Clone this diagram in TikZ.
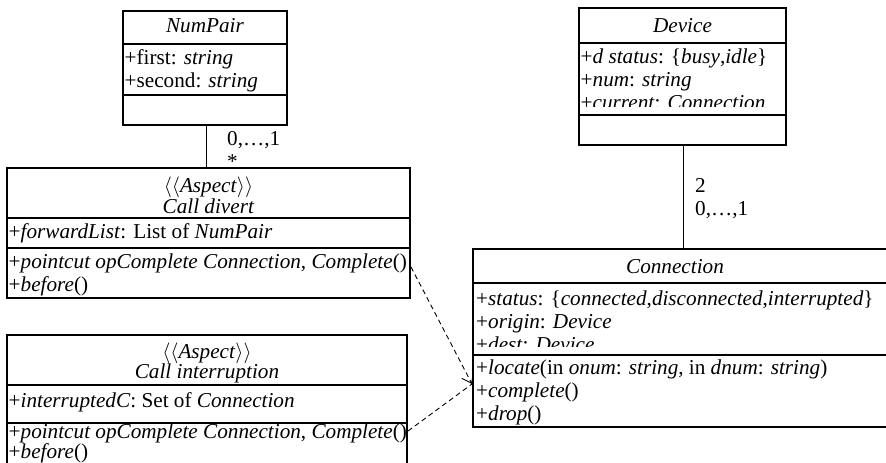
\documentclass[tikz,border=0pt]{standalone}
\usepackage{fontspec}
\setmainfont{Liberation Serif}
\usetikzlibrary{arrows.meta}
\newcommand\umlfont{\fontsize{21.2}{23}\selectfont}

\begin{document}
\begin{tikzpicture}[x=1pt, y=-1pt,
    box/.style={line width=2.7pt},
    lnk/.style={line width=0.9pt},
    dep/.style={lnk, dash pattern=on 5pt off 3.5pt},
    ttl/.style={inner sep=0pt, anchor=base, font=\umlfont},
    cell/.style={inner sep=0pt, anchor=north west, align=left, font=\umlfont}]
    \useasboundingbox (0,0) rectangle (886,463);
    \clip (0,0) rectangle (886,463);

    \node[ttl] (NP) at (205,32) {\textit{NumPair}};
    \node[cell] (NPa) at (124.5,48) {\strut+first: \textit{string}\\+second: \textit{string}};
    \draw[box] (123,11) rectangle (287,125) (123,44) -- (287,44) (123,95) -- (287,95);

    \node[ttl] (CDs) at (208.5,192.5) {$\langle\langle$\textit{Aspect}$\rangle\rangle$};
    \node[ttl] (CD) at (208.5,213) {\textit{Call divert}};
    \node[cell] (CDa) at (8.5,222.4) {\strut+\textit{forwardList}: List of \textit{NumPair}};
    \node[cell] (CDo) at (8.5,252.4) {\strut+\textit{pointcut opComplete Connection}, \textit{Complete}()\\+\textit{before}()};
    \draw[box] (7,168) rectangle (410,298) (7,218) -- (410,218) (7,248) -- (410,248);

    \node[ttl] (CIs) at (207,358.5) {$\langle\langle$\textit{Aspect}$\rangle\rangle$};
    \node[ttl] (CI) at (207,378.5) {\textit{Call interruption}};
    \node[cell] (CIa) at (8.5,391.4) {\strut+\textit{interruptedC}: Set of \textit{Connection}};
    \node[cell] (CIo) at (8.5,422.4) {\strut+\textit{pointcut opComplete Connection}, \textit{Complete}()\\[-3pt]+\textit{before}()};
    \draw[box] (7,335) rectangle (407,480) (7,385) -- (407,385) (7,423) -- (407,423);

    \node[ttl] (D) at (682.5,32) {\textit{Device}};
    \node[cell] (Da) at (580.5,47.4) {\strut+\textit{d status}: \{\textit{busy},\textit{idle}\}\\+\textit{num}: \textit{string}\\+\textit{current}: \textit{Connection}};
    \fill[white] (580,107) rectangle (785,114);
    \draw[box] (579,8) rectangle (786,145) (579,43) -- (786,43) (579,115) -- (786,115);

    \node[ttl] (C) at (675,273) {\textit{Connection}};
    \node[cell] (Ca) at (476,289.4) {\strut+\textit{status}: \{\textit{connected},\textit{disconnected},\textit{interrupted}\}\\+\textit{origin}: \textit{Device}\\+\textit{dest}: \textit{Device}};
    \fill[white] (475,347) rectangle (899,354);
    \node[cell] (Co) at (476,358) {\strut+\textit{locate}(in \textit{onum}: \textit{string}, in \textit{dnum}: \textit{string})\\+\textit{complete}()\\+\textit{drop}()};
    \draw[box] (473,249) rectangle (900,427) (473,283) -- (900,283) (473,355) -- (900,355);

    \coordinate (NPs) at (206,125);
    \coordinate (CDn) at (206,168);
    \draw[lnk] (NPs) -- (CDn);
    \node[cell] (m1) at (227,128.9) {\strut 0,\ldots,1\\*};

    \coordinate (Ds) at (683,145);
    \coordinate (Cn) at (683,249);
    \draw[lnk] (Ds) -- (Cn);
    \node[cell] (m2) at (695,175.9) {\strut 2\\0,\ldots,1};

    \coordinate (CDr) at (411,267);
    \coordinate (CIr) at (408,431);
    \coordinate (Cw) at (472,384);
    \draw[dep, -{Straight Barb[length=9pt, width=13pt]}] (CDr) -- (Cw);
    \draw[dep] (CIr) -- (Cw);
\end{tikzpicture}
\end{document}
